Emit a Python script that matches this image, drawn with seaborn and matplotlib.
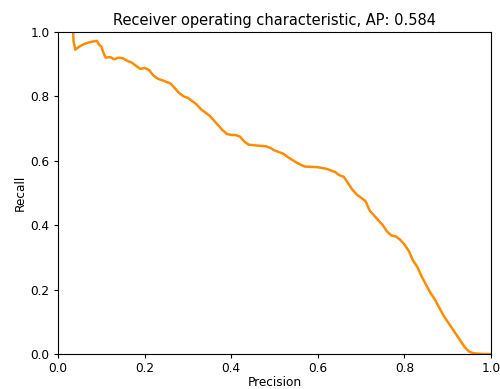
import numpy as np
import pandas as pd
import matplotlib
matplotlib.use('Agg')
import matplotlib.pyplot as plt
import seaborn as sns

## Precision-recall points
precision = [0.035, 0.036, 0.04, 0.05, 0.06, 0.07, 0.08, 0.09, 0.095, 0.10, 0.105, 0.11,
             0.12, 0.13, 0.14, 0.15, 0.16, 0.17, 0.18, 0.19, 0.20, 0.21, 0.22, 0.23,
             0.24, 0.25, 0.26, 0.27, 0.28, 0.29, 0.30, 0.31, 0.32, 0.33, 0.34, 0.35,
             0.36, 0.37, 0.38, 0.39, 0.40, 0.41, 0.42, 0.43, 0.44, 0.46, 0.48, 0.49,
             0.50, 0.52, 0.53, 0.55, 0.56, 0.57, 0.60, 0.62, 0.64, 0.65, 0.66, 0.67,
             0.68, 0.69, 0.70, 0.71, 0.72, 0.73, 0.74, 0.75, 0.76, 0.77, 0.78, 0.79,
             0.80, 0.81, 0.82, 0.83, 0.84, 0.85, 0.86, 0.87, 0.88, 0.89, 0.90, 0.91,
             0.92, 0.93, 0.94, 0.95, 0.96, 0.98, 1.00]
recall = [1.0, 0.97, 0.945, 0.955, 0.962, 0.967, 0.970, 0.972, 0.96, 0.955, 0.935, 0.92,
          0.922, 0.915, 0.92, 0.918, 0.91, 0.905, 0.895, 0.885, 0.888, 0.882, 0.865, 0.855,
          0.85, 0.845, 0.84, 0.825, 0.81, 0.80, 0.795, 0.785, 0.775, 0.76, 0.75, 0.74,
          0.725, 0.71, 0.695, 0.683, 0.68, 0.68, 0.675, 0.66, 0.65, 0.647, 0.645, 0.64,
          0.632, 0.622, 0.612, 0.595, 0.588, 0.582, 0.58, 0.575, 0.565, 0.555, 0.55, 0.53,
          0.51, 0.495, 0.485, 0.475, 0.445, 0.43, 0.415, 0.40, 0.38, 0.368, 0.365, 0.355,
          0.34, 0.32, 0.29, 0.27, 0.24, 0.215, 0.19, 0.17, 0.145, 0.12, 0.10, 0.08,
          0.06, 0.04, 0.02, 0.007, 0.002, 0.0, 0.0]
ap = 0.584

df = pd.DataFrame({'precision': precision, 'recall': recall})

plt.rcParams['font.size'] = 8.75
plt.rcParams['xtick.major.size'] = 3
plt.rcParams['ytick.major.size'] = 3
plt.rcParams['xtick.major.pad'] = 2.5
plt.rcParams['ytick.major.pad'] = 3
plt.rcParams['axes.labelpad'] = 2.5
fig = plt.figure(figsize=(5, 3.89), dpi=100)
ax = fig.add_axes([0.116, 0.09, 0.866, 0.828])
sns.lineplot(data=df, x='precision', y='recall', sort=False, estimator=None,
             color='darkorange', lw=1.8, ax=ax)
ax.set_xlim(0.0, 1.0)
ax.set_ylim(0.0, 1.0)
ax.set_xlabel('Precision', labelpad=1)
ax.set_ylabel('Recall')
ax.set_title('Receiver operating characteristic, AP: %.3f' % ap, fontsize=10.5, pad=5)
fig.savefig('out.png', dpi=100)
